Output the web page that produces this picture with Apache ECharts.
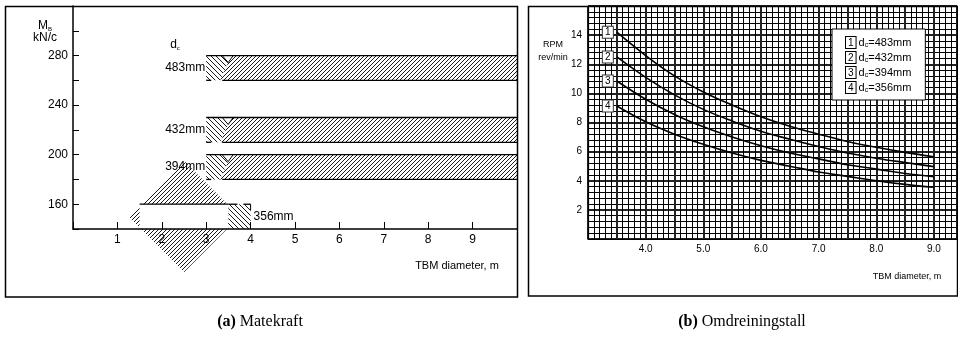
<!DOCTYPE html>
<html>
<head>
<meta charset="utf-8">
<title>Matekraft / Omdreiningstall</title>
<script src="https://cdn.jsdelivr.net/npm/echarts@6/dist/echarts.min.js"></script>
<style>
  html, body { margin: 0; padding: 0; background: #fff; }
  #chart { width: 958px; height: 342px; }
</style>
</head>
<body>
<div id="chart"></div>
<script>
// ---- (a) Matekraft ----
var bandNames = ['483mm', '432mm', '394mm'];
var bandFrom = [3, 3, 3];
var bandTo = [10, 10, 10];
var bandLow = [260, 210, 180];
var bandHigh = [280, 230, 200];
// 356mm: rhombus with a cut-out window and a short stub
var rhombusX = [1.25, 2.5, 3.75, 2.5];
var rhombusY = [150, 195, 150, 105];
var windowX = [1.5, 3.5];
var windowY = [140, 160];
var stubX = [3.5, 4];
var forceTicks = [160, 200, 240, 280];

// ---- (b) Omdreiningstall ----
var diameters = [3.5, 4.0, 4.5, 5.0, 5.5, 6.0, 6.5, 7.0, 7.5, 8.0, 8.5, 9.0];
var rpm483 = [14.2, 12.6, 11.2, 10.1, 9.2, 8.4, 7.75, 7.2, 6.7, 6.3, 5.95, 5.65];
var rpm432 = [12.5, 11.1, 9.9, 8.9, 8.1, 7.4, 6.85, 6.35, 5.9, 5.55, 5.25, 4.97];
var rpm394 = [10.85, 9.6, 8.55, 7.7, 7.0, 6.4, 5.9, 5.5, 5.1, 4.8, 4.5, 4.28];
var rpm356 = [9.13, 8.05, 7.2, 6.5, 5.9, 5.4, 5.0, 4.6, 4.3, 4.0, 3.75, 3.55];
var cutterNames = ['483mm', '432mm', '394mm', '356mm'];
var rpmSeries = [rpm483, rpm432, rpm394, rpm356];

var FONT = '"Liberation Sans", Arial, sans-serif';

// hatch tiles
function hatch(dir, step, bg) {
  var c = document.createElement('canvas');
  c.width = step; c.height = step;
  var g = c.getContext('2d');
  if (bg) { g.fillStyle = bg; g.fillRect(0, 0, step, step); }
  g.strokeStyle = '#000';
  g.lineWidth = 0.9;
  g.beginPath();
  if (dir > 0) {
    g.moveTo(0, step); g.lineTo(step, 0);
    g.moveTo(-1, 1); g.lineTo(1, -1);
    g.moveTo(step - 1, step + 1); g.lineTo(step + 1, step - 1);
  } else {
    g.moveTo(0, 0); g.lineTo(step, step);
    g.moveTo(-1, step - 1); g.lineTo(1, step + 1);
    g.moveTo(step - 1, -1); g.lineTo(step + 1, 1);
  }
  g.stroke();
  return { image: c, repeat: 'repeat' };
}
var fwd = hatch(1, 4, '#fff');
var back = hatch(-1, 5, '#fff');
var fwdClear = hatch(1, 4, null);

var ln = function (x1, y1, x2, y2, w) {
  return { type: 'line', shape: { x1: x1, y1: y1, x2: x2, y2: y2 }, style: { stroke: '#000', lineWidth: w || 1 } };
};

var myChart = echarts.init(document.getElementById('chart'));

var option = {
  animation: false,
  textStyle: { fontFamily: FONT, color: '#000' },
  grid: [
    { left: 73, top: 6, width: 444, height: 223, containLabel: false, outerBoundsMode: 'none' },
    { left: 588, top: 6, width: 369, height: 233, containLabel: false, outerBoundsMode: 'none',
      show: true, borderColor: '#000', borderWidth: 1 }
  ],
  xAxis: [
    {
      gridIndex: 0, type: 'value', position: 'bottom', min: 0, max: 10, interval: 1, z: 10,
      axisLine: { lineStyle: { color: '#000', width: 1.5 } },
      axisTick: { inside: true, length: 7, lineStyle: { color: '#000' } },
      axisLabel: { fontSize: 12, color: '#000', margin: 5,
        formatter: function (v) { return v > 0 && v < 10 ? String(v) : ''; } },
      splitLine: { show: false }
    },
    {
      gridIndex: 1, type: 'value', position: 'bottom', min: 3, max: 9.4, interval: 0.1,
      axisLine: { show: false }, axisTick: { show: false }, axisLabel: { show: false },
      splitLine: { show: true, lineStyle: { color: '#000', width: 1 } }
    },
    {
      gridIndex: 1, type: 'value', position: 'bottom', min: 3, max: 9.4, interval: 0.5,
      axisLine: { lineStyle: { color: '#000', width: 1.2 } },
      axisTick: { show: false },
      axisLabel: { fontSize: 10, color: '#000', margin: 5,
        formatter: function (v) {
          return (Math.abs(v - Math.round(v)) < 1e-6 && v >= 4 && v <= 9) ? v.toFixed(1) : '';
        } },
      splitLine: { show: true, lineStyle: { color: '#222', width: 2 } }
    }
  ],
  yAxis: [
    {
      gridIndex: 0, type: 'value', position: 'left', min: 140, max: 320, interval: 20, z: 10,
      axisLine: { lineStyle: { color: '#000', width: 1.5 } },
      axisTick: { inside: true, length: 6, lineStyle: { color: '#000' } },
      axisLabel: { fontSize: 12, color: '#000', margin: 5,
        formatter: function (v) { return forceTicks.indexOf(v) >= 0 ? String(v) : ''; } },
      splitLine: { show: false }
    },
    {
      gridIndex: 1, type: 'value', position: 'left', min: 0, max: 16, interval: 0.4,
      axisLine: { show: false }, axisTick: { show: false }, axisLabel: { show: false },
      splitLine: { show: true, lineStyle: { color: '#000', width: 1 } }
    },
    {
      gridIndex: 1, type: 'value', position: 'left', min: 0, max: 16, interval: 2,
      axisLine: { lineStyle: { color: '#000', width: 1.2 } },
      axisTick: { show: false },
      axisLabel: { fontSize: 10, color: '#000', margin: 6,
        formatter: function (v) { return v > 0 && v < 16 ? String(v) : ''; } },
      splitLine: { show: true, lineStyle: { color: '#222', width: 2 } }
    }
  ],
  legend: {
    show: true,
    z: 20,
    selectedMode: false,
    orient: 'vertical',
    left: 832, top: 29,
    padding: [7, 14, 6, 8],
    itemGap: 2,
    itemWidth: 0, itemHeight: 0,
    backgroundColor: '#fff',
    borderColor: '#000', borderWidth: 1,
    data: cutterNames,
    formatter: function (name) {
      return '{n|' + (cutterNames.indexOf(name) + 1) + '} d{s|c}=' + name;
    },
    textStyle: {
      fontSize: 11, color: '#000', fontFamily: FONT,
      rich: {
        n: { fontSize: 10, borderColor: '#000', borderWidth: 1, padding: [1, 2, 0, 2], backgroundColor: '#fff', lineHeight: 12 },
        s: { fontSize: 7, verticalAlign: 'bottom', lineHeight: 12 }
      }
    }
  },
  series: [
    {
      type: 'custom', xAxisIndex: 0, yAxisIndex: 0,
      data: bandNames.map(function (n, i) { return [bandFrom[i], bandLow[i], bandTo[i], bandHigh[i]]; }),
      renderItem: function (params, api) {
        var i = params.dataIndex;
        var a = api.coord([api.value(0), api.value(3)]);
        var b = api.coord([api.value(2), api.value(1)]);
        var x0 = a[0], t = a[1], x1 = b[0], bt = b[1];
        var vy = t + 7;
        return {
          type: 'group',
          children: [
            { type: 'polygon', shape: { points: [[x0, t], [x0 + 16, t], [x0 + 22, vy], [x0 + 14, bt], [x0, bt]] },
              style: { fill: back } },
            { type: 'polygon', shape: { points: [[x0 + 27, t], [x1, t], [x1, bt], [x0 + 14, bt], [x0 + 22, vy]] },
              style: { fill: fwd } },
            { type: 'polyline', shape: { points: [[x0 + 16, t], [x0 + 22, vy], [x0 + 27, t]] },
              style: { stroke: '#000', lineWidth: 1, fill: null } },
            ln(x0, t, x1, t, 1.3),
            ln(x0, bt, x0 + 5, bt, 1.3),
            ln(x0 + 16, bt, x1, bt, 1.3),
            { type: 'text', x: x0 - 1, y: (t + bt) / 2,
              style: { text: bandNames[i], align: 'right', verticalAlign: 'middle', font: '12px ' + FONT, fill: '#000' } }
          ]
        };
      }
    },
    {
      type: 'custom', xAxisIndex: 0, yAxisIndex: 0, clip: false,
      data: [[windowX[0], windowY[0]]],
      renderItem: function (params, api) {
        var pts = rhombusX.map(function (x, k) { return api.coord([x, rhombusY[k]]); });
        var w0 = api.coord([windowX[0], windowY[1]]);
        var w1 = api.coord([windowX[1], windowY[0]]);
        var s0 = api.coord([stubX[0], windowY[1]]);
        var s1 = api.coord([stubX[1], windowY[0]]);
        return {
          type: 'group',
          children: [
            { type: 'polygon', shape: { points: pts }, style: { fill: fwdClear } },
            { type: 'rect', shape: { x: w0[0], y: w0[1], width: w1[0] - w0[0], height: w1[1] - w0[1] },
              style: { fill: '#fff' } },
            { type: 'rect', shape: { x: s0[0], y: s0[1], width: s1[0] - s0[0], height: s1[1] - s0[1] },
              style: { fill: back } },
            ln(w0[0], w0[1], w1[0], w0[1], 1.3),
            ln(s0[0], s0[1], s0[0] + 9, s0[1], 1.3),
            ln(s0[0] + 15, s0[1], s1[0], s0[1], 1.3),
            ln(s1[0], s0[1], s1[0], s0[1] + 6, 1),
            { type: 'text', x: s1[0] + 3, y: (s0[1] + s1[1]) / 2,
              style: { text: '356mm', align: 'left', verticalAlign: 'middle', font: '12px ' + FONT, fill: '#000' } }
          ]
        };
      }
    }
  ].concat(rpmSeries.map(function (arr, i) {
    return {
      name: cutterNames[i],
      type: 'line',
      xAxisIndex: 2, yAxisIndex: 2,
      z: 5,
      smooth: 0.4,
      symbol: 'none',
      lineStyle: { color: '#000', width: 1.6 },
      itemStyle: { color: '#000' },
      data: diameters.map(function (d, k) { return [d, arr[k]]; }),
      markPoint: {
        symbol: 'rect',
        symbolSize: [11, 12],
        symbolOffset: [-9, 0],
        itemStyle: { color: '#fff', borderColor: '#333', borderWidth: 1 },
        label: { show: true, position: 'inside', color: '#000', fontSize: 10, fontFamily: FONT,
          formatter: String(i + 1) },
        data: [{ coord: [diameters[0], arr[0]] }]
      }
    };
  })),
  graphic: [
    // frames
    { type: 'rect', shape: { x: 5.5, y: 6.5, width: 512, height: 290.5 },
      style: { fill: null, stroke: '#000', lineWidth: 1.5 }, z: 20 },
    { type: 'rect', shape: { x: 528.5, y: 6.5, width: 429, height: 289.5 },
      style: { fill: null, stroke: '#000', lineWidth: 1.5 }, z: 20 },
    // left axis titles
    { type: 'text', x: 45, y: 26, z: 20,
      style: { text: 'M{s|B}', align: 'center', verticalAlign: 'middle', font: '12px ' + FONT, fill: '#000',
        rich: { s: { fontSize: 6, verticalAlign: 'bottom', lineHeight: 13 } } } },
    { type: 'text', x: 45, y: 38, z: 20,
      style: { text: 'kN/c', align: 'center', verticalAlign: 'middle', font: '12px ' + FONT, fill: '#000' } },
    { type: 'text', x: 175, y: 45, z: 20,
      style: { text: 'd{s|c}', align: 'center', verticalAlign: 'middle', font: '12px ' + FONT, fill: '#000',
        rich: { s: { fontSize: 6, verticalAlign: 'bottom', lineHeight: 13 } } } },
    { type: 'text', x: 457, y: 266, z: 20,
      style: { text: 'TBM diameter, m', align: 'center', verticalAlign: 'middle', font: '11px ' + FONT, fill: '#000' } },
    // right axis titles
    { type: 'text', x: 553, y: 51, z: 20,
      style: { text: 'RPM\nrev/min', align: 'center', verticalAlign: 'middle', font: '9px ' + FONT, fill: '#000', lineHeight: 13 } },
    { type: 'text', x: 907, y: 277, z: 20,
      style: { text: 'TBM diameter, m', align: 'center', verticalAlign: 'middle', font: '9px ' + FONT, fill: '#000' } },
    // captions
    { type: 'text', x: 260, y: 322, z: 20,
      style: { text: '{b|(a)} Matekraft', align: 'center', verticalAlign: 'middle', font: '16px "Liberation Serif", serif', fill: '#000',
        rich: { b: { fontWeight: 'bold', fontSize: 16, fontFamily: '"Liberation Serif", serif' } } } },
    { type: 'text', x: 742, y: 322, z: 20,
      style: { text: '{b|(b)} Omdreiningstall', align: 'center', verticalAlign: 'middle', font: '16px "Liberation Serif", serif', fill: '#000',
        rich: { b: { fontWeight: 'bold', fontSize: 16, fontFamily: '"Liberation Serif", serif' } } } }
  ]
};

option && myChart.setOption(option);
</script>
</body>
</html>
